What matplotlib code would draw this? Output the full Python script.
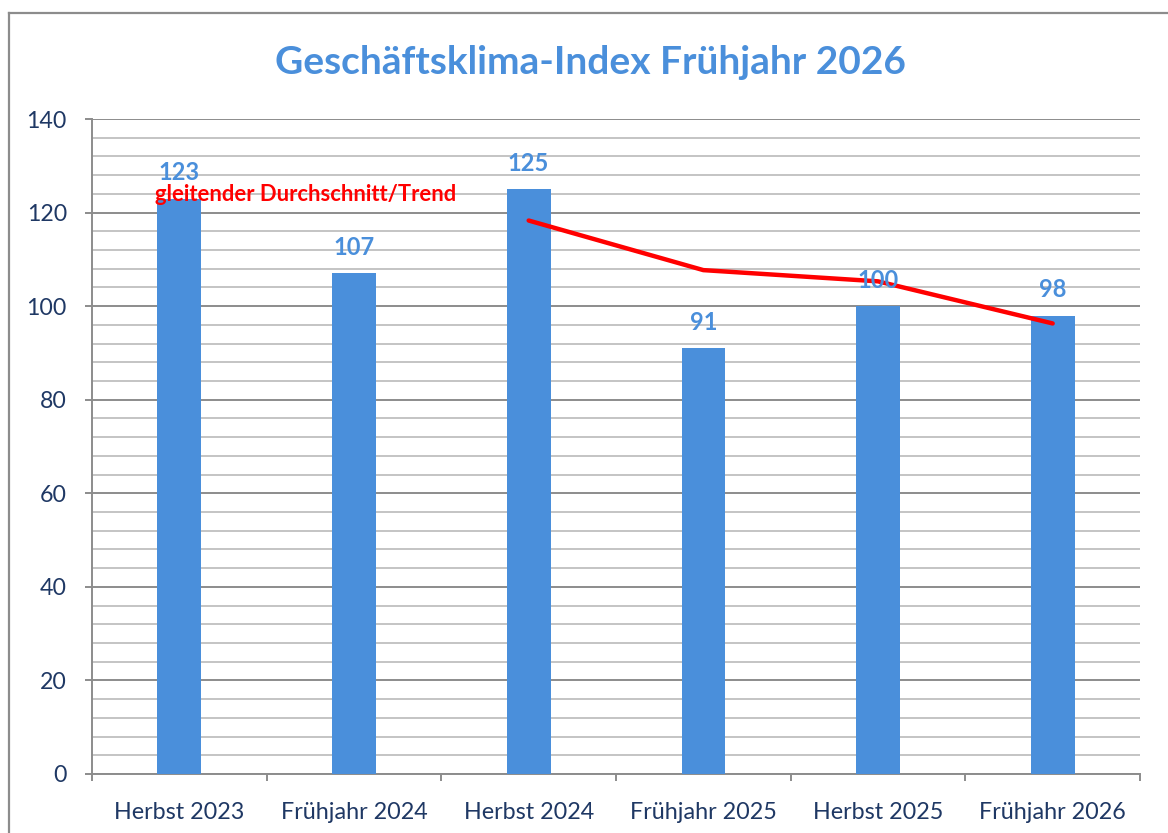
import matplotlib
matplotlib.use("Agg")
import matplotlib.pyplot as plt
from matplotlib.lines import Line2D
from matplotlib.ticker import MultipleLocator

categories = ["Herbst 2023", "Frühjahr 2024", "Herbst 2024",
              "Frühjahr 2025", "Herbst 2025", "Frühjahr 2026"]
values = [123, 107, 125, 91, 100, 98]
trend_categories = ["Herbst 2024", "Frühjahr 2025", "Herbst 2025", "Frühjahr 2026"]
trend_values = [118.3, 107.7, 105.3, 96.3]

title = "Geschäftsklima-Index Frühjahr 2026"
trend_label = "gleitender Durchschnitt/Trend"

plt.rcParams['font.family'] = ['Lato', 'DejaVu Sans']

bar_color = "#4A8FDB"
navy = "#1F3864"

fig = plt.figure(figsize=(11.68, 8.33), dpi=100)
W, H = 1168, 833
ax = fig.add_axes([92 / W, 1 - 774 / H, (1140 - 92) / W, (774 - 119) / H])

# outer border
fig.add_artist(Line2D([9 / W, 1.0], [1 - 13 / H, 1 - 13 / H], color="#8C8C8C", lw=1.6,
                      transform=fig.transFigure))
fig.add_artist(Line2D([9 / W, 9 / W], [1 - 13 / H, 0.0], color="#8C8C8C", lw=1.6,
                      transform=fig.transFigure))

x = list(range(len(categories)))
ax.bar(x, values, width=0.25, color=bar_color, zorder=3)

for xi, v in zip(x, values):
    ax.annotate(str(v), (xi, v), xytext=(0, 18.5), textcoords="offset points",
                ha="center", va="center", fontsize=17, fontweight="bold",
                color=bar_color, zorder=5)

tx = [categories.index(c) for c in trend_categories]
ax.plot(tx, trend_values, color="#FF0000", lw=3.2, solid_capstyle="round",
        solid_joinstyle="round", zorder=4)

ax.text(-0.14, 123.8, trend_label, ha="left", va="center", fontsize=15.8,
        fontweight="bold", color="#FF0000", zorder=6)

ax.set_xlim(-0.5, len(categories) - 0.5)
ax.set_ylim(0, 140)
ax.yaxis.set_major_locator(MultipleLocator(20))
ax.yaxis.set_minor_locator(MultipleLocator(4))
ax.grid(which="major", axis="y", color="#8C8C8C", lw=1.4, zorder=0)
ax.grid(which="minor", axis="y", color="#C4C4C4", lw=1.4, zorder=0)
ax.set_axisbelow(True)

ax.set_xticks(x)
ax.set_xticklabels(categories)
ax.set_xticks([i - 0.5 for i in range(len(categories) + 1)], minor=True)
ax.tick_params(axis="x", which="major", length=0, pad=20, labelsize=16.8, labelcolor=navy)
ax.tick_params(axis="x", which="minor", length=5, width=1.4, color="#8C8C8C")
ax.tick_params(axis="y", which="major", length=5, width=1.4, color="#8C8C8C",
               pad=13, labelsize=16.7, labelcolor=navy)
ax.tick_params(axis="y", which="minor", length=0)

for s in ["top", "right"]:
    ax.spines[s].set_visible(False)
for s in ["left", "bottom"]:
    ax.spines[s].set_color("#8C8C8C")
    ax.spines[s].set_linewidth(1.4)

fig.text(590 / W, 1 - 62 / H, title, ha="center", va="center", fontsize=28,
         fontweight="bold", color=bar_color)

fig.savefig("out.png", dpi=100)
